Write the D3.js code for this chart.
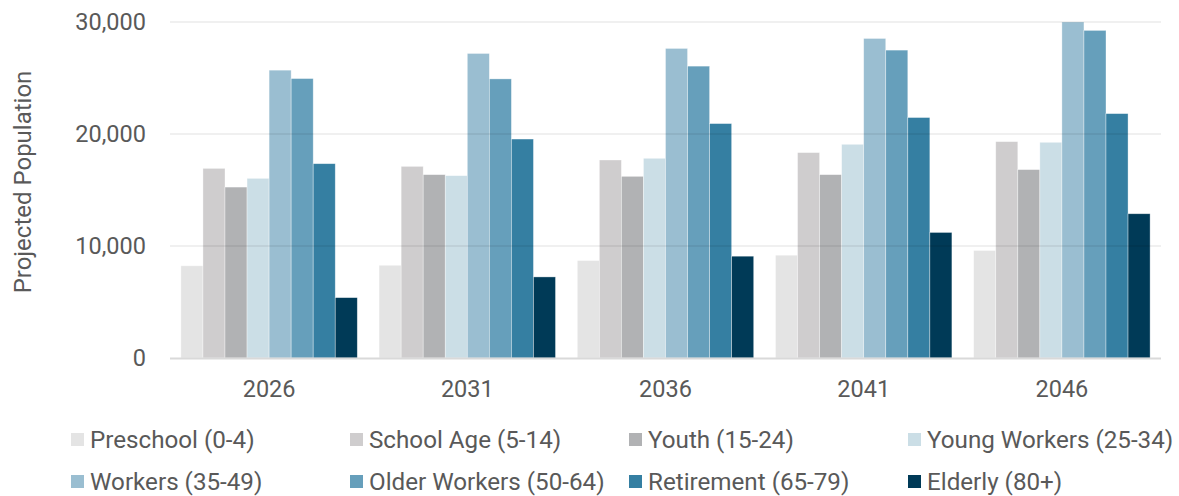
<!DOCTYPE html>
<html lang="en">
<head>
    <meta charset="utf-8">
    <script src="https://d3js.org/d3.v7.min.js"></script>
    <style>
        body { margin: 0; background: #fff; }
        text { font-family: Roboto, "Noto Sans", sans-serif; fill: #595959; }
    </style>
</head>
<body>
    <div id="chart"></div>
    <script>
        const years = ['2026', '2031', '2036', '2041', '2046'];
        const groups = ['Preschool (0-4)', 'School Age (5-14)', 'Youth (15-24)', 'Young Workers (25-34)',
            'Workers (35-49)', 'Older Workers (50-64)', 'Retirement (65-79)', 'Elderly (80+)'];
        const couleurs = ['#e4e4e4', '#cfcdce', '#b1b2b4', '#cbdee6', '#9abed1', '#669fbb', '#357fa2', '#003a57'];

        // une ligne par groupe d'âge, une valeur par année
        const preschool = [8230, 8280, 8700, 9180, 9600];
        const schoolAge = [16930, 17110, 17680, 18340, 19320];
        const youth = [15260, 16370, 16220, 16370, 16820];
        const youngWorkers = [16040, 16280, 17830, 19080, 19260];
        const workers = [25700, 27190, 27640, 28530, 30000];
        const olderWorkers = [24950, 24920, 26060, 27490, 29250];
        const retirement = [17350, 19550, 20930, 21470, 21820];
        const elderly = [5390, 7240, 9090, 11210, 12880];
        const series = [preschool, schoolAge, youth, youngWorkers, workers, olderWorkers, retirement, elderly];
        const yTicks = [0, 10000, 20000, 30000];

        const largeur = 1179, hauteur = 496;
        const marge = { gauche: 170, droite: 18, haut: 22, bas: 138 };

        const svg = d3.select('#chart').append('svg')
            .attr('width', largeur)
            .attr('height', hauteur);

        const x = d3.scaleBand()
            .domain(years)
            .range([marge.gauche, largeur - marge.droite])
            .paddingInner(0.11)
            .paddingOuter(0.055);

        const xInterne = d3.scaleBand()
            .domain(groups)
            .range([0, x.bandwidth()]);

        const y = d3.scaleLinear()
            .domain([0, 30000])
            .range([hauteur - marge.bas, marge.haut]);

        // barres
        years.forEach((annee, i) => {
            svg.append('g')
                .attr('transform', `translate(${x(annee)},0)`)
                .selectAll('rect')
                .data(groups)
                .join('rect')
                .attr('x', g => xInterne(g))
                .attr('width', xInterne.bandwidth())
                .attr('y', (g, j) => y(series[j][i]))
                .attr('height', (g, j) => y(0) - y(series[j][i]))
                .attr('fill', (g, j) => couleurs[j])
                .attr('stroke', '#fff')
                .attr('stroke-opacity', 0.5)
                .attr('stroke-width', 0.7);
        });

        // lignes de grille par-dessus, légèrement transparentes
        svg.append('g')
            .selectAll('line')
            .data(yTicks.filter(t => t > 0))
            .join('line')
            .attr('x1', marge.gauche)
            .attr('x2', largeur - marge.droite)
            .attr('y1', d => y(d))
            .attr('y2', d => y(d))
            .attr('stroke', '#000')
            .attr('stroke-opacity', 0.06)
            .attr('stroke-width', 2);

        // axe des x
        svg.append('line')
            .attr('x1', marge.gauche)
            .attr('x2', largeur - marge.droite)
            .attr('y1', y(0) + 0.5)
            .attr('y2', y(0) + 0.5)
            .attr('stroke', '#d9d9d9')
            .attr('stroke-width', 2);

        const axeX = svg.append('g')
            .attr('transform', `translate(0,${y(0)})`)
            .call(d3.axisBottom(x).tickSize(0).tickPadding(22));
        axeX.select('.domain').remove();
        axeX.selectAll('text').style('font-size', '23.5px').attr('fill', '#595959');

        const axeY = svg.append('g')
            .attr('transform', `translate(${marge.gauche},0)`)
            .call(d3.axisLeft(y).tickValues(yTicks).tickSize(0).tickPadding(24).tickFormat(d3.format(',')));
        axeY.select('.domain').remove();
        axeY.selectAll('text').style('font-size', '23.5px').attr('fill', '#595959');

        svg.append('text')
            .attr('transform', `translate(31,182) rotate(-90)`)
            .attr('text-anchor', 'middle')
            .style('font-size', '24px')
            .text('Projected Population');

        // légende
        const legende = svg.append('g');
        groups.forEach((g, j) => {
            const col = j % 4, ligne = Math.floor(j / 4);
            const lx = 71 + col * 279;
            const ly = 439.5 + ligne * 42;
            legende.append('rect')
                .attr('x', lx)
                .attr('y', ly - 6.5)
                .attr('width', 13)
                .attr('height', 13)
                .attr('fill', couleurs[j]);
            legende.append('text')
                .attr('x', lx + 19)
                .attr('y', ly)
                .attr('dy', '0.35em')
                .style('font-size', '24.2px')
                .text(g);
        });
    </script>
</body>
</html>
